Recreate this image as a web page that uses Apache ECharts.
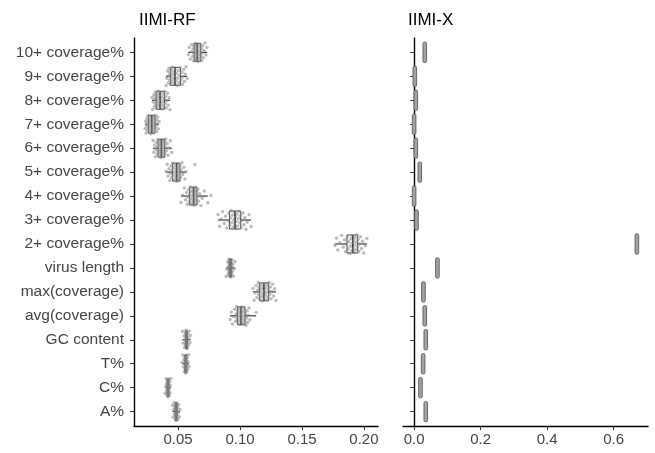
<!DOCTYPE html>
<html>
<head>
<meta charset="utf-8">
<script src="https://cdn.jsdelivr.net/npm/echarts@6/dist/echarts.min.js"></script>
<style>
  html, body { margin: 0; padding: 0; background: #fff; }
  #chart { width: 655px; height: 453px; }
</style>
</head>
<body>
<div id="chart"></div>
<script>
// Feature names, listed top to bottom
const features = [
  '10+ coverage%', '9+ coverage%', '8+ coverage%', '7+ coverage%',
  '6+ coverage%', '5+ coverage%', '4+ coverage%', '3+ coverage%',
  '2+ coverage%', 'virus length', 'max(coverage)', 'avg(coverage)',
  'GC content', 'T%', 'C%', 'A%'
];

const panelTitles = ['IIMI-RF', 'IIMI-X'];

// IIMI-RF importance values, one array per feature
const rfCov10 = [0.0583,0.0590,0.0598,0.0605,0.0611,0.0617,0.0621,0.0625,0.0628,0.0631,0.0634,0.0637,0.0640,0.0643,0.0646,0.0648,0.0651,0.0653,0.0655,0.0658,0.0661,0.0664,0.0667,0.0670,0.0674,0.0678,0.0682,0.0686,0.0690,0.0694,0.0699,0.0704,0.0710,0.0717,0.0725,0.0734];
const rfCov9  = [0.0403,0.0410,0.0416,0.0421,0.0425,0.0428,0.0431,0.0434,0.0437,0.0441,0.0445,0.0449,0.0453,0.0457,0.0461,0.0465,0.0469,0.0473,0.0477,0.0482,0.0487,0.0492,0.0497,0.0502,0.0507,0.0512,0.0518,0.0524,0.0530,0.0535,0.0540,0.0546,0.0552,0.0558,0.0565,0.0573];
const rfCov8  = [0.0290,0.0295,0.0300,0.0305,0.0309,0.0313,0.0316,0.0319,0.0322,0.0325,0.0328,0.0331,0.0334,0.0337,0.0341,0.0345,0.0349,0.0353,0.0357,0.0361,0.0365,0.0369,0.0373,0.0377,0.0381,0.0385,0.0389,0.0393,0.0397,0.0401,0.0405,0.0410,0.0415,0.0421,0.0428,0.0435];
const rfCov7  = [0.0234,0.0238,0.0242,0.0246,0.0249,0.0252,0.0255,0.0257,0.0259,0.0262,0.0265,0.0268,0.0271,0.0274,0.0277,0.0280,0.0283,0.0286,0.0289,0.0292,0.0295,0.0298,0.0301,0.0304,0.0307,0.0310,0.0313,0.0316,0.0319,0.0322,0.0325,0.0328,0.0332,0.0336,0.0341,0.0347];
const rfCov6  = [0.0298,0.0305,0.0312,0.0318,0.0323,0.0327,0.0331,0.0334,0.0337,0.0340,0.0343,0.0346,0.0349,0.0352,0.0355,0.0358,0.0361,0.0364,0.0367,0.0370,0.0373,0.0376,0.0379,0.0382,0.0385,0.0388,0.0391,0.0394,0.0397,0.0401,0.0406,0.0412,0.0419,0.0427,0.0438,0.0450];
const rfCov5  = [0.0403,0.0412,0.0420,0.0427,0.0433,0.0439,0.0444,0.0448,0.0452,0.0456,0.0460,0.0464,0.0468,0.0472,0.0476,0.0480,0.0484,0.0487,0.0490,0.0493,0.0496,0.0499,0.0502,0.0505,0.0508,0.0511,0.0514,0.0517,0.0521,0.0526,0.0532,0.0539,0.0547,0.0556,0.0565,0.0637];
const rfCov4  = [0.0524,0.0538,0.0550,0.0560,0.0568,0.0575,0.0581,0.0586,0.0590,0.0594,0.0598,0.0602,0.0606,0.0610,0.0614,0.0618,0.0621,0.0624,0.0627,0.0630,0.0633,0.0636,0.0639,0.0642,0.0645,0.0648,0.0651,0.0655,0.0660,0.0666,0.0674,0.0684,0.0695,0.0712,0.0740,0.0766];
const rfCov3  = [0.0823,0.0835,0.0848,0.0860,0.0872,0.0883,0.0893,0.0902,0.0910,0.0917,0.0923,0.0929,0.0934,0.0939,0.0944,0.0949,0.0954,0.0958,0.0962,0.0966,0.0971,0.0976,0.0981,0.0986,0.0992,0.0998,0.1004,0.1010,0.1017,0.1024,0.1031,0.1039,0.1048,0.1058,0.1072,0.1090];
const rfCov2  = [0.1766,0.1778,0.1790,0.1805,0.1820,0.1833,0.1843,0.1851,0.1858,0.1865,0.1872,0.1878,0.1884,0.1890,0.1895,0.1900,0.1904,0.1908,0.1912,0.1916,0.1920,0.1924,0.1928,0.1933,0.1938,0.1943,0.1948,0.1953,0.1959,0.1965,0.1972,0.1980,0.1989,0.1999,0.2010,0.2024];
const rfVirusLength = [0.0888,0.0895,0.0900,0.0904,0.0907,0.0910,0.0912,0.0914,0.0916,0.0918,0.0920,0.0921,0.0923,0.0924,0.0926,0.0928,0.0930,0.0932,0.0935,0.0938,0.0942,0.0947,0.0953,0.0960];
const rfMaxCov = [0.1105,0.1114,0.1122,0.1129,0.1136,0.1142,0.1147,0.1151,0.1155,0.1159,0.1163,0.1167,0.1171,0.1175,0.1179,0.1183,0.1187,0.1191,0.1195,0.1199,0.1203,0.1207,0.1211,0.1215,0.1220,0.1225,0.1230,0.1235,0.1240,0.1245,0.1251,0.1257,0.1264,0.1271,0.1280,0.1290];
const rfAvgCov = [0.0920,0.0930,0.0940,0.0950,0.0957,0.0963,0.0968,0.0972,0.0976,0.0980,0.0984,0.0988,0.0991,0.0994,0.0997,0.1000,0.1003,0.1006,0.1009,0.1012,0.1015,0.1019,0.1023,0.1027,0.1031,0.1035,0.1039,0.1043,0.1047,0.1052,0.1057,0.1062,0.1067,0.1073,0.1080,0.1130];
const rfGC = [0.0535,0.0542,0.0548,0.0552,0.0555,0.0558,0.0560,0.0562,0.0564,0.0565,0.0566,0.0567,0.0568,0.0569,0.0570,0.0572,0.0574,0.0576,0.0579,0.0582,0.0586,0.0591,0.0596,0.0601];
const rfT  = [0.0533,0.0538,0.0543,0.0547,0.0550,0.0553,0.0555,0.0557,0.0558,0.0559,0.0560,0.0561,0.0562,0.0563,0.0564,0.0566,0.0568,0.0570,0.0572,0.0575,0.0578,0.0581,0.0585,0.0589];
const rfC  = [0.0396,0.0400,0.0404,0.0407,0.0409,0.0411,0.0413,0.0414,0.0415,0.0416,0.0417,0.0418,0.0419,0.0420,0.0421,0.0422,0.0424,0.0426,0.0428,0.0430,0.0432,0.0435,0.0438,0.0441];
const rfA  = [0.0455,0.0460,0.0465,0.0469,0.0472,0.0475,0.0477,0.0479,0.0481,0.0482,0.0483,0.0484,0.0485,0.0486,0.0487,0.0489,0.0491,0.0493,0.0496,0.0499,0.0503,0.0507,0.0511,0.0516];

const rfValues = [rfCov10, rfCov9, rfCov8, rfCov7, rfCov6, rfCov5, rfCov4, rfCov3,
                  rfCov2, rfVirusLength, rfMaxCov, rfAvgCov, rfGC, rfT, rfC, rfA];

// IIMI-X importance (nearly constant across runs)
const xgbValues = [0.032, 0.002, 0.005, 0.000, 0.005, 0.017, 0.000, 0.007,
                   0.670, 0.070, 0.028, 0.032, 0.035, 0.027, 0.019, 0.035];

// Tick labels
const rfTicks  = ['0.05', '0.10', '0.15', '0.20'];
const xgbTicks = ['0.0', '0.2', '0.4', '0.6'];

// ---- helpers ----
function quantile(sorted, p) {
  const h = (sorted.length - 1) * p;
  const lo = Math.floor(h), hi = Math.ceil(h);
  return sorted[lo] + (sorted[hi] - sorted[lo]) * (h - lo);
}
function boxStats(vals) {
  const s = vals.slice().sort((a, b) => a - b);
  const q1 = quantile(s, 0.25), med = quantile(s, 0.5), q3 = quantile(s, 0.75);
  const iqr = q3 - q1;
  const lowFence = q1 - 1.5 * iqr, highFence = q3 + 1.5 * iqr;
  const lo = s.find(v => v >= lowFence);
  const hi = s.slice().reverse().find(v => v <= highFence);
  return [lo, q1, med, q3, hi];
}
function expandRange(minV, maxV) {
  const r = maxV - minV;
  return [minV - 0.05 * r, maxV + 0.05 * r];
}

const allRf = [].concat(...rfValues);
const rfRange = expandRange(Math.min(...allRf), Math.max(...allRf));
const xgbRange = expandRange(Math.min(...xgbValues), Math.max(...xgbValues));

const boxData = rfValues.map((vals, i) => [i].concat(boxStats(vals)));

// jittered points: vertical offset spread evenly within +-0.4 of a row
const pointData = [];
rfValues.forEach((vals, i) => {
  vals.forEach((v, k) => {
    const u = ((k + 1) * 0.6180339887 + i * 0.37) % 1;
    pointData.push([v, i + (u - 0.5) * 0.8]);
  });
});

const xgbData = xgbValues.map((v, i) => [v, i]);

const indexTicks = features.map((_, i) => i);

const labelColor = '#444';
const fontFamily = 'Liberation Sans, Arial, sans-serif';

function yAxisFor(gridIndex, showLabels) {
  return {
    type: 'value',
    gridIndex: gridIndex,
    min: -0.6,
    max: features.length - 1 + 0.6,
    inverse: true,
    splitLine: { show: false },
    axisLine: { show: true, lineStyle: { color: '#000', width: 1.4 } },
    axisTick: { show: true, length: 4, customValues: indexTicks, lineStyle: { color: '#333', width: 1 } },
    axisLabel: {
      show: showLabels,
      customValues: indexTicks,
      formatter: v => features[Math.round(v)],
      color: labelColor,
      fontSize: 15.5,
      fontFamily: fontFamily,
      margin: 10
    }
  };
}

function xAxisFor(gridIndex, range, tickLabels) {
  const ticks = tickLabels.map(Number);
  return {
    type: 'value',
    gridIndex: gridIndex,
    min: range[0],
    max: range[1],
    splitLine: { show: false },
    axisLine: { show: true, onZero: false, lineStyle: { color: '#000', width: 1.4 } },
    axisTick: { show: true, length: 4, customValues: ticks, lineStyle: { color: '#333', width: 1 } },
    axisLabel: {
      customValues: ticks,
      formatter: v => tickLabels[ticks.findIndex(t => Math.abs(t - v) < 1e-9)],
      color: labelColor,
      fontSize: 15,
      fontFamily: fontFamily,
      margin: 6
    }
  };
}

const chart = echarts.init(document.getElementById('chart'), null, { renderer: 'canvas' });

chart.setOption({
  animation: false,
  backgroundColor: '#fff',
  title: [
    { text: panelTitles[0], left: 134, top: 7, textStyle: { fontSize: 17, fontWeight: 'normal', color: '#000', fontFamily: fontFamily } },
    { text: panelTitles[1], left: 403, top: 7, textStyle: { fontSize: 17, fontWeight: 'normal', color: '#000', fontFamily: fontFamily } }
  ],
  grid: [
    { left: 134, top: 38, width: 244, height: 388 },
    { left: 403, top: 38, width: 245, height: 388 }
  ],
  xAxis: [xAxisFor(0, rfRange, rfTicks), xAxisFor(1, xgbRange, xgbTicks)],
  yAxis: [yAxisFor(0, true), yAxisFor(1, false)],
  series: [
    {
      // box and whiskers for IIMI-RF
      type: 'custom',
      xAxisIndex: 0,
      yAxisIndex: 0,
      data: boxData,
      encode: { x: [1, 2, 3, 4, 5], y: 0 },
      renderItem: function (params, api) {
        const i = api.value(0);
        const lo = api.coord([api.value(1), i]);
        const q1 = api.coord([api.value(2), i]);
        const md = api.coord([api.value(3), i]);
        const q3 = api.coord([api.value(4), i]);
        const hi = api.coord([api.value(5), i]);
        const half = api.size([0, 1])[1] * 0.75 / 2;
        const cy = md[1];
        const stroke = { stroke: '#111', lineWidth: 0.8, fill: null };
        return {
          type: 'group',
          children: [
            { type: 'line', shape: { x1: lo[0], y1: cy, x2: q1[0], y2: cy }, style: { stroke: '#111', lineWidth: 1 } },
            { type: 'line', shape: { x1: q3[0], y1: cy, x2: hi[0], y2: cy }, style: { stroke: '#111', lineWidth: 1 } },
            { type: 'rect', shape: { x: q1[0], y: cy - half, width: q3[0] - q1[0], height: half * 2 }, style: stroke },
            { type: 'line', shape: { x1: md[0], y1: cy - half, x2: md[0], y2: cy + half }, style: { stroke: '#111', lineWidth: 1.6 } }
          ]
        };
      },
      z: 2
    },
    {
      // individual runs for IIMI-RF
      type: 'scatter',
      xAxisIndex: 0,
      yAxisIndex: 0,
      data: pointData,
      symbol: 'circle',
      symbolSize: 3.4,
      itemStyle: { color: 'rgba(140,140,140,0.75)' },
      silent: true,
      z: 3
    },
    {
      // IIMI-X strips
      type: 'custom',
      xAxisIndex: 1,
      yAxisIndex: 1,
      data: xgbData,
      encode: { x: 0, y: 1 },
      renderItem: function (params, api) {
        const p = api.coord([api.value(0), api.value(1)]);
        const half = api.size([0, 1])[1] * 0.85 / 2;
        return {
          type: 'rect',
          shape: { x: p[0] - 1.8, y: p[1] - half, width: 3.6, height: half * 2, r: 1.5 },
          style: { fill: '#a3a3a3', stroke: '#5a5a5a', lineWidth: 0.9 }
        };
      },
      z: 2
    }
  ]
});
</script>
</body>
</html>
